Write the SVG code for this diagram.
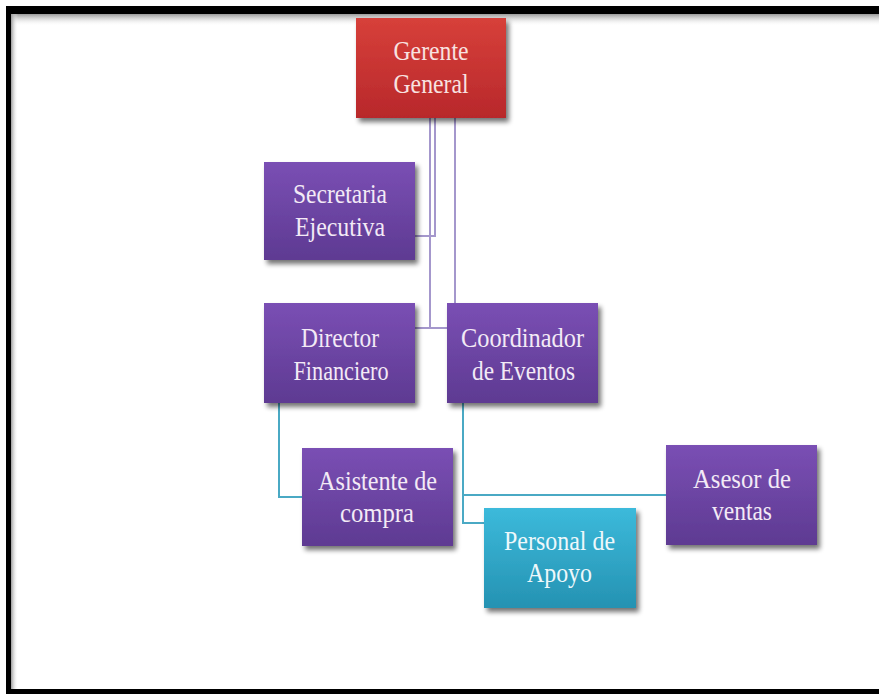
<svg xmlns="http://www.w3.org/2000/svg" width="879" height="694" viewBox="0 0 879 694">
  <defs>
    <linearGradient id="gRed" x1="0" y1="0" x2="0" y2="1">
      <stop offset="0" stop-color="#d7403a"/>
      <stop offset="1" stop-color="#b8282b"/>
    </linearGradient>
    <linearGradient id="gPurple" x1="0" y1="0" x2="0" y2="1">
      <stop offset="0" stop-color="#7a4fb4"/>
      <stop offset="1" stop-color="#5e3a92"/>
    </linearGradient>
    <linearGradient id="gTeal" x1="0" y1="0" x2="0" y2="1">
      <stop offset="0" stop-color="#3cbadb"/>
      <stop offset="1" stop-color="#2592b2"/>
    </linearGradient>
    <linearGradient id="gTopShade" x1="0" y1="0" x2="0" y2="1">
      <stop offset="0" stop-color="#9a9a9a"/>
      <stop offset="1" stop-color="#ffffff" stop-opacity="0"/>
    </linearGradient>
    <linearGradient id="gLeftShade" x1="0" y1="0" x2="1" y2="0">
      <stop offset="0" stop-color="#9a9a9a"/>
      <stop offset="1" stop-color="#ffffff" stop-opacity="0"/>
    </linearGradient>
    <filter id="shadow" x="-10%" y="-10%" width="130%" height="140%">
      <feGaussianBlur in="SourceAlpha" stdDeviation="2.5"/>
      <feOffset dx="3" dy="4" result="b"/>
      <feComponentTransfer><feFuncA type="linear" slope="0.55"/></feComponentTransfer>
      <feMerge><feMergeNode/><feMergeNode in="SourceGraphic"/></feMerge>
    </filter>
  </defs>
  <style>
    .box { filter: url(#shadow); }
    .lbl { font-family: "Liberation Serif", "Times New Roman", serif; font-size: 27px; fill: #f3eaf6; text-anchor: middle; }
    .red .lbl { fill: #f8e2e0; }
    .teal .lbl { fill: #eef8fb; }
    .lnP { fill: none; stroke: #a497cc; stroke-width: 2; }
    .lnT { fill: none; stroke: #4aa9c4; stroke-width: 2; }
  </style>

  <!-- page background and frame -->
  <rect x="0" y="0" width="879" height="694" fill="#ffffff"/>
  <rect x="11" y="14" width="868" height="12" fill="url(#gTopShade)"/>
  <rect x="11" y="14" width="7" height="675" fill="url(#gLeftShade)"/>
  <rect x="6" y="6" width="873" height="8" fill="#000000"/>
  <rect x="6" y="6" width="5" height="688" fill="#000000"/>
  <rect x="6" y="689" width="873" height="5" fill="#000000"/>

  <!-- connectors -->
  <g id="connectors">
    <polyline class="lnP" points="435,118 435,236 415,236"/>
    <polyline class="lnP" points="430,118 430,328"/>
    <line class="lnP" x1="415" y1="328" x2="447" y2="328"/>
    <line class="lnP" x1="455" y1="118" x2="455" y2="303"/>
    <polyline class="lnT" points="279,403 279,497 302,497"/>
    <polyline class="lnT" points="463,403 463,523 484,523"/>
    <line class="lnT" x1="463" y1="495" x2="666" y2="495"/>
  </g>

  <!-- nodes -->
  <g id="gerente-general" class="red">
    <rect class="box" x="356" y="18" width="150" height="100" fill="url(#gRed)"/>
    <text class="lbl" x="431" y="60" textLength="75" lengthAdjust="spacingAndGlyphs">Gerente</text>
    <text class="lbl" x="431" y="93" textLength="75" lengthAdjust="spacingAndGlyphs">General</text>
  </g>

  <g id="secretaria-ejecutiva">
    <rect class="box" x="264" y="162" width="151" height="98" fill="url(#gPurple)"/>
    <text class="lbl" x="340" y="203" textLength="94" lengthAdjust="spacingAndGlyphs">Secretaria</text>
    <text class="lbl" x="340" y="236" textLength="90" lengthAdjust="spacingAndGlyphs">Ejecutiva</text>
  </g>

  <g id="director-financiero">
    <rect class="box" x="264" y="303" width="151" height="100" fill="url(#gPurple)"/>
    <text class="lbl" x="340" y="347" textLength="78" lengthAdjust="spacingAndGlyphs">Director</text>
    <text class="lbl" x="341" y="380" textLength="95" lengthAdjust="spacingAndGlyphs">Financiero</text>
  </g>

  <g id="coordinador-eventos">
    <rect class="box" x="447" y="303" width="151" height="100" fill="url(#gPurple)"/>
    <text class="lbl" x="522.5" y="347" textLength="123" lengthAdjust="spacingAndGlyphs">Coordinador</text>
    <text class="lbl" x="523.5" y="380" textLength="103" lengthAdjust="spacingAndGlyphs">de Eventos</text>
  </g>

  <g id="asistente-compra">
    <rect class="box" x="302" y="448" width="151" height="98" fill="url(#gPurple)"/>
    <text class="lbl" x="377.5" y="490" textLength="119" lengthAdjust="spacingAndGlyphs">Asistente de</text>
    <text class="lbl" x="377" y="522" textLength="74" lengthAdjust="spacingAndGlyphs">compra</text>
  </g>

  <g id="personal-apoyo" class="teal">
    <rect class="box" x="484" y="508" width="152" height="100" fill="url(#gTeal)"/>
    <text class="lbl" x="559.5" y="550" textLength="111" lengthAdjust="spacingAndGlyphs">Personal de</text>
    <text class="lbl" x="559.5" y="582" textLength="65" lengthAdjust="spacingAndGlyphs">Apoyo</text>
  </g>

  <g id="asesor-ventas">
    <rect class="box" x="666" y="445" width="151" height="100" fill="url(#gPurple)"/>
    <text class="lbl" x="742" y="488" textLength="98" lengthAdjust="spacingAndGlyphs">Asesor de</text>
    <text class="lbl" x="742" y="520" textLength="60" lengthAdjust="spacingAndGlyphs">ventas</text>
  </g>
</svg>
